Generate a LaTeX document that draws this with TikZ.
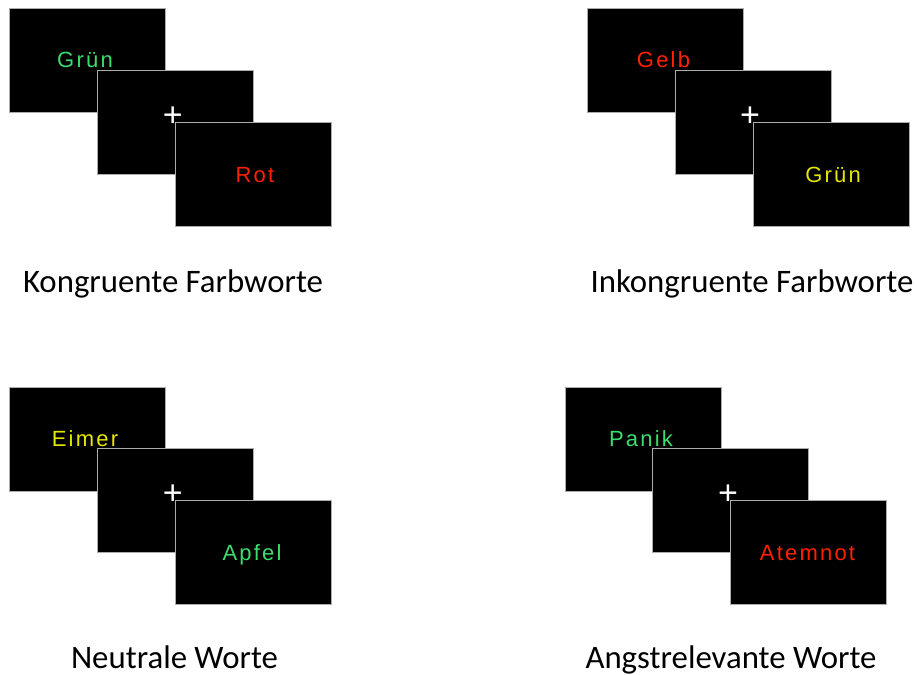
\documentclass[tikz,border=0pt]{standalone}
\usepackage{fontspec}
\newfontfamily\lblfont{Carlito}
\newfontfamily\wrdfont[LetterSpace=10]{Liberation Sans}
\newfontfamily\plusfont{Liberation Sans}
\definecolor{wgreen}{RGB}{60,220,110}
\definecolor{wred}{RGB}{255,32,0}
\definecolor{wyellow}{RGB}{230,230,0}
\begin{document}
\begin{tikzpicture}[x=1bp,y=-1bp,
  screen/.style={draw=gray!65,line width=0.9bp,fill=black,inner sep=0pt,
    minimum width=156bp,minimum height=104bp,anchor=north west},
  word/.style={anchor=base,inner sep=0pt,font=\wrdfont\fontsize{22bp}{25bp}\selectfont},
  fix/.style={anchor=center,inner sep=0pt,text=white,font=\plusfont\fontsize{34bp}{36bp}\selectfont},
  caption/.style={anchor=base,inner sep=0pt,font=\lblfont\fontsize{32.8bp}{38bp}\selectfont}]
\useasboundingbox[fill=white] (0,0) rectangle (917,675);
% top left
\node[screen] (a1) at (9,8) {};
\node[word,text=wgreen] (aw1) at (85,68) {Grün};
\node[screen] (a2) at (97,70) {};
\node[fix] (ap) at (172.7,117) {+};
\node[screen] (a3) at (175,122) {};
\node[word,text=wred] (aw3) at (255,183) {Rot};
\node[caption] (ac) at (173,292) {Kongruente Farbworte};
% top right
\node[screen] (b1) at (587,8) {};
\node[word,text=wred] (bw1) at (663.5,68) {Gelb};
\node[screen] (b2) at (675,70) {};
\node[fix] (bp) at (750,117) {+};
\node[screen] (b3) at (753,122) {};
\node[word,text=wyellow] (bw3) at (833,183) {Grün};
\node[caption] (bc) at (752,292) {Inkongruente Farbworte};
% bottom left
\node[screen] (c1) at (9,387) {};
\node[word,text=wyellow] (cw1) at (85,446) {Eimer};
\node[screen] (c2) at (97,448) {};
\node[fix] (cp) at (172.7,495) {+};
\node[screen] (c3) at (175,500) {};
\node[word,text=wgreen] (cw3) at (252,560) {Apfel};
\node[caption] (cc) at (174.5,668.5) {Neutrale Worte};
% bottom right
\node[screen] (d1) at (565,387) {};
\node[word,text=wgreen] (dw1) at (641,446) {Panik};
\node[screen] (d2) at (652,448) {};
\node[fix] (dp) at (728,495) {+};
\node[screen] (d3) at (730,500) {};
\node[word,text=wred] (dw3) at (807.5,560) {Atemnot};
\node[caption] (dc) at (731,668.5) {Angstrelevante Worte};
\end{tikzpicture}
\end{document}
